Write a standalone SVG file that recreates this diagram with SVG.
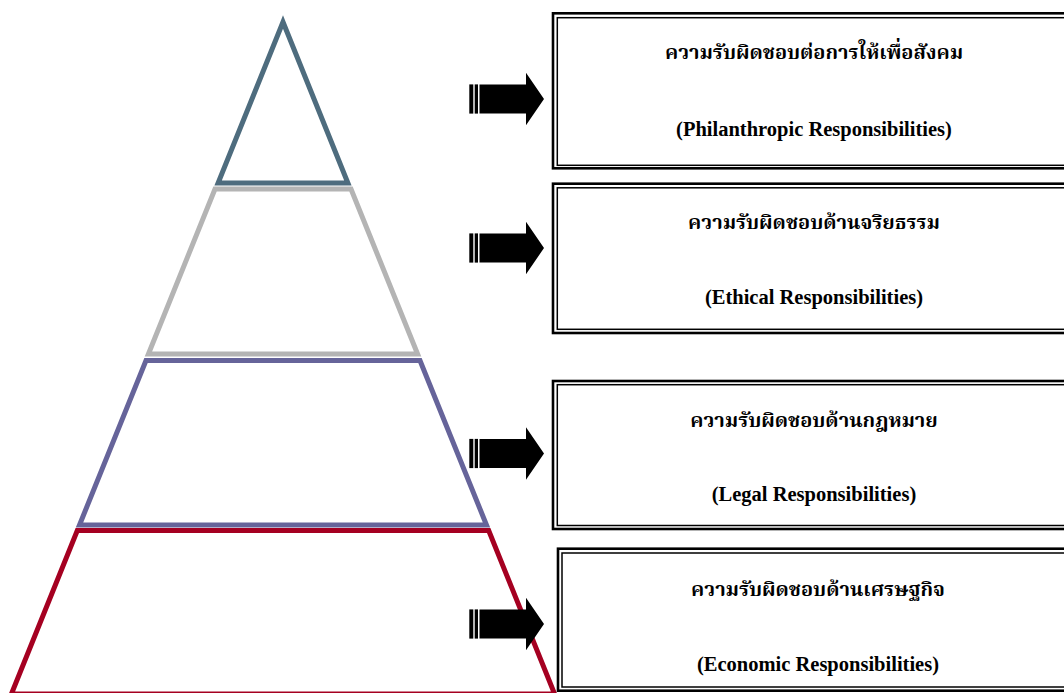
<svg xmlns="http://www.w3.org/2000/svg" xmlns:xlink="http://www.w3.org/1999/xlink" width="1064" height="693" viewBox="0 0 1064 693">
<style>
.lvl{fill:none;stroke-width:5;stroke-linejoin:miter}
.outer{fill:#fff;stroke:#000;stroke-width:2.6}
.inner{fill:none;stroke:#000;stroke-width:1.5}
.th{font-family:"Liberation Serif","Noto Serif Thai","Noto Sans Thai",serif;font-weight:bold;font-size:20px;fill:#000;text-anchor:middle}
.en{font-family:"Liberation Serif","Times New Roman",serif;font-weight:bold;font-size:20.5px;fill:#000;text-anchor:middle}
</style>
<defs>
<g id="arrow">
<rect x="469.3" y="-14.6" width="4" height="29.2" fill="#000"/>
<rect x="474.7" y="-14.6" width="3.3" height="29.2" fill="#000"/>
<path d="M479.5,-14.6 H526 V-26.3 L544,0 L526,26.3 V14.6 H479.5 Z" fill="#000"/>
</g>
</defs>
<rect width="1064" height="693" fill="#fff"/>
<g id="pyramid">
<polygon id="level-philanthropic" class="lvl" stroke="#4E6C7E" points="283,22 218.1,183 347.9,183"/>
<polygon id="level-ethical" class="lvl" stroke="#B4B4B4" points="215,189 351,189 417.6,354 148.4,354"/>
<polygon id="level-legal" class="lvl" stroke="#66649A" points="146,360.5 420,360.5 486.5,525 79.5,525"/>
<polygon id="level-economic" class="lvl" stroke="#A50021" points="77.3,530.5 488.7,530.5 554.6,694 11.4,694"/>
</g>
<g id="connectors">
<use xlink:href="#arrow" transform="translate(0,99)"/>
<use xlink:href="#arrow" transform="translate(0,248)"/>
<use xlink:href="#arrow" transform="translate(0,453.5)"/>
<use xlink:href="#arrow" transform="translate(0,624)"/>
</g>
<g id="box-philanthropic">
<rect class="outer" x="553" y="13.3" width="520" height="155"/>
<rect class="inner" x="557.3" y="17.7" width="520" height="147.6"/>
<text class="th" x="814" y="59">ความรับผิดชอบต่อการให้เพื่อสังคม</text>
<text class="en" x="814" y="136">(Philanthropic Responsibilities)</text>
</g>
<g id="box-ethical">
<rect class="outer" x="553" y="183.7" width="520" height="149.3"/>
<rect class="inner" x="557.3" y="187.8" width="520" height="141.5"/>
<text class="th" x="814" y="229">ความรับผิดชอบด้านจริยธรรม</text>
<text class="en" x="814" y="304">(Ethical Responsibilities)</text>
</g>
<g id="box-legal">
<rect class="outer" x="553" y="381" width="520" height="148"/>
<rect class="inner" x="557.3" y="384.7" width="520" height="140.8"/>
<text class="th" x="814" y="427">ความรับผิดชอบด้านกฎหมาย</text>
<text class="en" x="814" y="501">(Legal Responsibilities)</text>
</g>
<g id="box-economic">
<rect class="outer" x="558" y="548.7" width="520" height="142"/>
<rect class="inner" x="562" y="553" width="520" height="134"/>
<text class="th" x="818" y="596">ความรับผิดชอบด้านเศรษฐกิจ</text>
<text class="en" x="818" y="671">(Economic Responsibilities)</text>
</g>
</svg>
